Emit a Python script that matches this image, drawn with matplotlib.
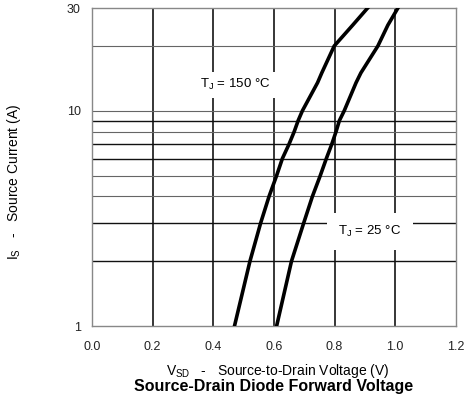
import numpy as np
import matplotlib.pyplot as plt

plt.rcParams['font.family'] = ['Liberation Sans', 'DejaVu Sans']

# 읽어낸 곡선 값 (Is, Vsd)
i_s = [1, 2, 3, 4, 5, 6, 7, 8, 9, 10, 13.5, 15, 20, 25, 30]
v_150 = [0.470, 0.521, 0.556, 0.584, 0.609, 0.628, 0.650, 0.667, 0.680, 0.694, 0.744, 0.758, 0.799, 0.860, 0.909]
v_25 = [0.609, 0.658, 0.698, 0.727, 0.753, 0.773, 0.791, 0.805, 0.816, 0.832, 0.871, 0.887, 0.943, 0.976, 1.009]

x_ticks = [0.0, 0.2, 0.4, 0.6, 0.8, 1.0, 1.2]
y_ticks = [1, 10, 30]
y_grid_dark = [2, 3, 6, 7, 9]
y_grid_light = [4, 5, 8, 10, 20]

fig = plt.figure(figsize=(4.67, 4.03), dpi=100)
ax = fig.add_axes([0.197, 0.191, 0.779, 0.789])

ax.set_yscale('log')
ax.set_xlim(0, 1.2)
ax.set_ylim(1, 30)

# 격자선
for x in x_ticks[1:-1]:
    ax.axvline(x, color='black', lw=1.1, zorder=1)
for y in y_grid_dark:
    ax.axhline(y, color='#111111', lw=1.0, zorder=1)
for y in y_grid_light:
    ax.axhline(y, color='#666666', lw=0.8, zorder=1)

ax.plot(v_150, i_s, color='black', lw=2.6, zorder=3, solid_joinstyle='round')
ax.plot(v_25, i_s, color='black', lw=2.6, zorder=3, solid_joinstyle='round')

ax.text(0.473, 13.2, 'T$_\\mathregular{J}$ = 150 °C', fontsize=9.5, ha='center', va='center',
        bbox=dict(facecolor='white', edgecolor='none', pad=4), zorder=2)
ax.text(0.917, 2.75, 'T$_\\mathregular{J}$ = 25 °C', fontsize=9.5, ha='center', va='center',
        bbox=dict(facecolor='white', edgecolor='none', pad=8), zorder=2)

ax.set_xticks(x_ticks)
ax.set_xticklabels(['0.0', '0.2', '0.4', '0.6', '0.8', '1.0', '1.2'])
ax.set_yticks(y_ticks)
ax.set_yticklabels(['1', '10', '30'])
ax.yaxis.set_minor_locator(plt.NullLocator())
ax.tick_params(axis='both', length=0, labelsize=9, colors='#222222')
ax.tick_params(axis='x', pad=11)
ax.tick_params(axis='y', pad=8)

for s in ax.spines.values():
    s.set_color('#888888')
    s.set_linewidth(1.0)

# 축 제목
fig.text(0.594, 0.079, 'V$_\\mathregular{SD}$   -   Source-to-Drain Voltage (V)', fontsize=10,
         ha='center', va='center')
fig.text(0.03, 0.548, 'I$_\\mathregular{S}$   -   Source Current (A)', fontsize=10,
         rotation=90, ha='center', va='center')
fig.text(0.586, 0.040, 'Source-Drain Diode Forward Voltage', fontsize=11.5,
         fontweight='bold', ha='center', va='center')

fig.savefig('out.png', dpi=100)
